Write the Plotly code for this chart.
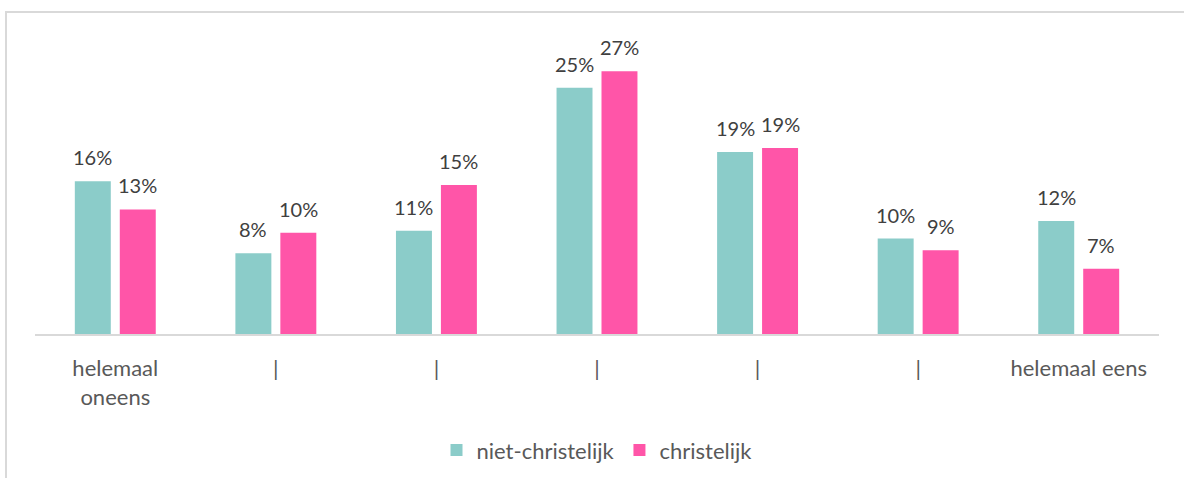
import plotly.graph_objects as go

# answer scale positions (7-point scale, only the ends are labelled)
tick_labels = ["helemaal<br>oneens", "|", "|", "|", "|", "|", "helemaal eens"]
positions = list(range(len(tick_labels)))

# shares in percent
niet_christelijk = [15.7, 8.3, 10.6, 25.3, 18.7, 9.8, 11.6]
christelijk = [12.8, 10.4, 15.3, 27.0, 19.1, 8.6, 6.7]

TEAL = "#8BCCC9"
PINK = "#FF55A8"
FONT = "Lato"

fig = go.Figure()

fig.add_trace(go.Bar(
    x=positions, y=niet_christelijk, name="niet-christelijk",
    marker=dict(color=TEAL, line=dict(width=0)),
))
fig.add_trace(go.Bar(
    x=positions, y=christelijk, name="christelijk",
    marker=dict(color=PINK, line=dict(width=0)),
))

# value labels above each bar
for series, shift in ((niet_christelijk, -22.5), (christelijk, 22.5)):
    for xi, v in zip(positions, series):
        fig.add_annotation(
            x=xi, y=v, xref="x", yref="y", text=f"{round(v)}%",
            showarrow=False, xshift=shift, yshift=10, yanchor="bottom",
            font=dict(family=FONT, size=20, color="#404040"),
        )

# light grey chart border (Excel style frame)
fig.add_shape(
    type="rect", xref="paper", yref="paper",
    x0=-0.0258, x1=1.05, y0=-0.6, y1=1.103,
    line=dict(color="#D9D9D9", width=2), fillcolor="rgba(0,0,0,0)",
    layer="below",
)

fig.update_layout(
    width=1184, height=478,
    margin=dict(l=35, r=25, t=42, b=144, autoexpand=False),
    paper_bgcolor="white", plot_bgcolor="white",
    barmode="group", bargap=0.44, bargroupgap=0.2,
    font=dict(family=FONT, size=22, color="#595959"),
    showlegend=True,
    legend=dict(
        orientation="h", x=0.5, xanchor="center", y=-0.398, yanchor="middle",
        font=dict(family=FONT, size=22, color="#595959"),
        itemwidth=30, tracegroupgap=0,
    ),
    xaxis=dict(
        tickmode="array", tickvals=positions, ticktext=tick_labels,
        range=[-0.5, 6.5], showgrid=False, zeroline=False,
        showline=True, linecolor="#D9D9D9", linewidth=2,
        ticks="", ticklabelstandoff=14,
        tickfont=dict(family=FONT, size=22, color="#595959"),
    ),
    yaxis=dict(
        range=[0, 30], visible=False, showgrid=False, zeroline=False,
    ),
)

# drop the browser's default page margin so the figure sits at (0, 0)
fig.write_html(
    "out.html",
    config={"displayModeBar": False},
    post_script="document.body.style.margin='0';",
)
